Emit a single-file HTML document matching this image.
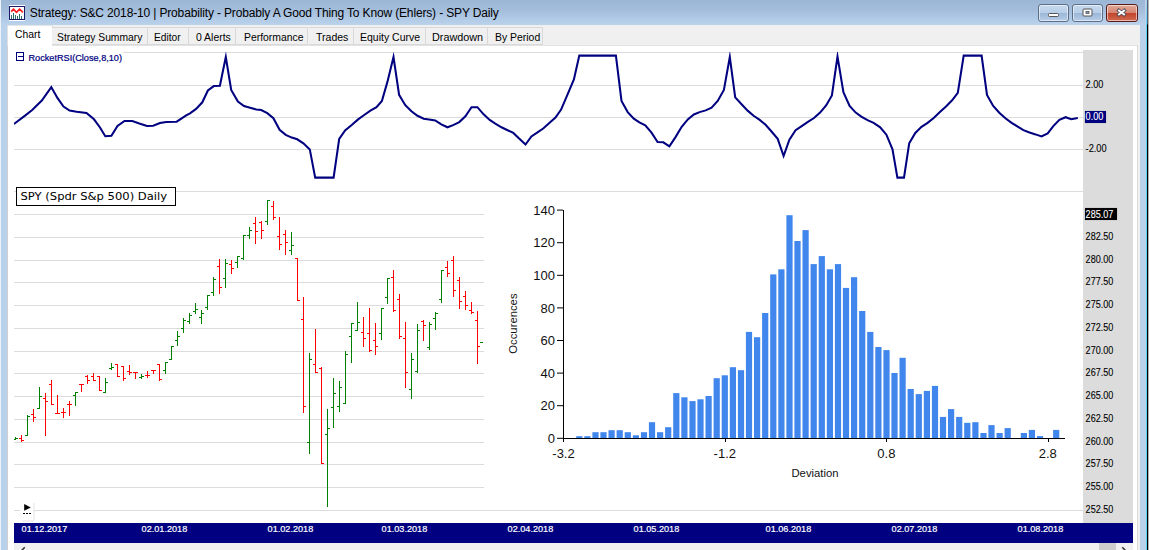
<!DOCTYPE html><html><head><meta charset="utf-8"><title>Strategy: S&amp;C 2018-10 | Probability - Probably A Good Thing To Know (Ehlers) - SPY Daily</title>
<style>
html,body{margin:0;padding:0;background:#fff}
body{width:1149px;height:550px;overflow:hidden;position:relative;font-family:"Liberation Sans",Arial,sans-serif}
#frame{position:absolute;left:0;top:0;width:1149px;height:550px;background:#b9d1ea;overflow:hidden}
#titlebar{position:absolute;left:0;top:0;width:1149px;height:25px;background:linear-gradient(#9cb6d5 0,#a3bddb 40%,#b1cae6 75%,#bad2eb 100%)}
#title{position:absolute;left:29.8px;top:5.2px;font-size:12px;letter-spacing:-0.15px;line-height:17px;color:#000;white-space:nowrap;transform-origin:0 0}
.cb{position:absolute;top:4px;width:31px;height:18px;border:1px solid #5b6f8a;border-radius:3px;box-sizing:border-box;background:linear-gradient(#c6d9ee 0,#b8cfe8 48%,#9bb6d6 50%,#b6cde8 100%);box-shadow:inset 0 0 0 1px rgba(255,255,255,.55)}
#bx{background:linear-gradient(#e3a898 0,#d68572 48%,#c2432a 50%,#cf6a50 100%);border-color:#5a1a1a}
#tabstrip{position:absolute;left:7px;top:25px;width:1133px;height:21px;background:#f0f0f0}
.tab{position:absolute;top:27px;height:18px;box-sizing:border-box;border:1px solid #d9d9d9;border-left:none;background:#f0f0f0;font-size:11.3px;color:#000}
.tab span,#tab0 span{position:absolute;top:2.5px;white-space:nowrap;line-height:12px;transform-origin:0 0}
#tab0{position:absolute;left:7px;top:25px;width:46px;height:21px;background:#fff;font-size:11.3px;border-right:1px solid #d9d9d9;border-top:1px solid #e4e4e4;box-sizing:border-box}
#content{position:absolute;left:8px;top:46px;width:1129px;height:504px;background:#fff}
</style></head><body>
<div id="frame">
<div id="titlebar"></div>
<svg style="position:absolute;left:9px;top:5px" width="16" height="16" viewBox="0 0 16 16"><rect x="0" y="0" width="16" height="16" fill="#fff"/><rect x="0.5" y="1.5" width="15" height="13" fill="#fff" stroke="#1a1a66"/><polyline points="2.1,6.6 4.5,4.2 7.5,7.3 10.6,4.2 13.9,7.3" fill="none" stroke="#ff1a1a" stroke-width="1.6"/><g fill="#2f6f6a" shape-rendering="crispEdges"><rect x="2" y="10" width="1" height="4"/><rect x="4" y="8" width="1" height="6"/><rect x="6" y="10" width="1" height="4"/><rect x="8" y="11" width="1" height="3"/><rect x="10" y="9" width="1" height="5"/><rect x="12" y="11" width="1" height="3"/></g></svg>
<div id="title">Strategy: S&amp;C 2018-10 | Probability - Probably A Good Thing To Know (Ehlers) - SPY Daily</div>
<div class="cb" id="bmin" style="left:1038px"><svg width="29" height="15" style="position:absolute;left:0;top:0"><rect x="9.5" y="8.5" width="10" height="3" rx="1" fill="#fff" stroke="#555" stroke-width="1"/></svg></div>
<div class="cb" id="bmax" style="left:1072px"><svg width="29" height="15" style="position:absolute;left:0;top:0"><rect x="10" y="4" width="9" height="7" rx="1" fill="#fff" stroke="#555" stroke-width="1"/><rect x="13" y="6.5" width="3" height="2" fill="#7f9cc0" stroke="#555" stroke-width=".8"/></svg></div>
<div class="cb" id="bx" style="left:1106px;width:32px"><svg width="30" height="15" style="position:absolute;left:0;top:0"><path d="M10.4 4.4 L18.6 10.6 M18.6 4.4 L10.4 10.6" stroke="#4a4a55" stroke-width="3.6"/><path d="M11.2 5 L17.8 10 M17.8 5 L11.2 10" stroke="#fff" stroke-width="2.1"/></svg></div>
<div id="tabstrip"></div>
<div id="tab0"><span id="s0" style="left:8.1px;top:1.6px;transform:scaleX(0.9153)">Chart</span></div>
<div class="tab" style="left:52.0px;width:95.7px"><span id="s1" style="left:5.0px;transform:scaleX(0.9126)">Strategy Summary</span></div>
<div class="tab" style="left:147.7px;width:41.7px"><span id="s2" style="left:6.8px;transform:scaleX(0.9040)">Editor</span></div>
<div class="tab" style="left:189.4px;width:46.9px"><span id="s3" style="left:7.1px;transform:scaleX(0.9234)">0 Alerts</span></div>
<div class="tab" style="left:236.3px;width:72.2px"><span id="s4" style="left:7.3px;transform:scaleX(0.9196)">Performance</span></div>
<div class="tab" style="left:308.5px;width:45.0px"><span id="s5" style="left:7.2px;transform:scaleX(0.9324)">Trades</span></div>
<div class="tab" style="left:353.5px;width:72.1px"><span id="s6" style="left:6.8px;transform:scaleX(0.9289)">Equity Curve</span></div>
<div class="tab" style="left:425.6px;width:62.8px"><span id="s7" style="left:6.9px;transform:scaleX(0.9572)">Drawdown</span></div>
<div class="tab" style="left:488.4px;width:54.9px"><span id="s8" style="left:6.9px;transform:scaleX(0.9224)">By Period</span></div>
<div id="content"></div>
<div style="position:absolute;left:7px;top:25px;width:1px;height:525px;background:linear-gradient(#e0e0e0 0,#e0e0e0 21px,#d0d0d0 21px)"></div>
<div style="position:absolute;left:52px;top:45px;width:1086px;height:1px;background:#e3e3e3"></div>
<div style="position:absolute;left:1137px;top:45px;width:1px;height:505px;background:#dcdcdc"></div>
<div style="position:absolute;left:1138px;top:25px;width:2px;height:525px;background:#f0f0f0"></div>
<div style="position:absolute;left:0;top:0;width:1px;height:550px;background:#eef3f9"></div>
<div style="position:absolute;left:1145px;top:0;width:1px;height:550px;background:#c3d1e8"></div>
<div style="position:absolute;left:1146px;top:0;width:1px;height:550px;background:linear-gradient(#a9d0ee 0,#5ad5ff 25px,#5ad5ff 100%)"></div>
<div style="position:absolute;left:1147px;top:0;width:1px;height:550px;background:linear-gradient(#55627a 0,#55627a 24px,#000 25px,#000 100%)"></div>
<div style="position:absolute;left:1148px;top:0;width:1px;height:550px;background:#b4b4b4"></div>
<svg width="1149" height="550" viewBox="0 0 1149 550" style="position:absolute;left:0;top:0">
<rect x="8" y="46" width="1129" height="504" fill="#fff"/>
<rect x="1083" y="50" width="50" height="473" fill="#dcdcdc"/>
<g shape-rendering="crispEdges" fill="#dcdcdc">
<rect x="14" y="52" width="1069" height="1"/>
<rect x="14" y="85" width="1069" height="1"/>
<rect x="14" y="117" width="1069" height="1"/>
<rect x="14" y="149" width="1069" height="1"/>
<rect x="14" y="191" width="1069" height="1"/>
<rect x="14" y="214" width="1069" height="1"/>
<rect x="14" y="237" width="1069" height="1"/>
<rect x="14" y="260" width="1069" height="1"/>
<rect x="14" y="282" width="1069" height="1"/>
<rect x="14" y="305" width="1069" height="1"/>
<rect x="14" y="328" width="1069" height="1"/>
<rect x="14" y="351" width="1069" height="1"/>
<rect x="14" y="373" width="1069" height="1"/>
<rect x="14" y="396" width="1069" height="1"/>
<rect x="14" y="419" width="1069" height="1"/>
<rect x="14" y="442" width="1069" height="1"/>
<rect x="14" y="464" width="1069" height="1"/>
<rect x="14" y="487" width="1069" height="1"/>
<rect x="14" y="510" width="1069" height="1"/>
</g>
<clipPath id="c1"><rect x="14" y="52" width="1069" height="135"/></clipPath>
<polyline clip-path="url(#c1)" points="13.9,124.0 24.4,116.1 32.2,110.0 41.8,100.5 51.3,87.1 57.4,97.9 63.5,106.6 69.6,110.6 76.6,111.8 86.5,113.0 94.0,119.3 100.0,127.5 105.3,136.2 111.4,135.8 117.5,126.0 124.5,121.0 132.3,121.0 139.3,123.5 147.0,126.0 153.2,125.7 160.0,123.1 166.2,121.9 176.7,121.7 186.2,115.3 190.0,113.3 196.1,108.9 202.3,102.3 207.9,90.5 213.8,86.1 219.9,85.8 225.8,57.0 231.2,90.0 237.9,101.5 244.0,106.0 250.1,107.7 256.3,109.4 261.2,110.1 267.3,113.1 273.4,118.2 279.6,129.8 285.7,134.9 291.8,137.6 297.2,139.3 303.4,143.3 309.8,149.4 315.2,177.6 333.6,177.6 339.2,138.8 345.1,130.5 352.0,124.8 358.1,119.4 364.2,115.0 370.4,110.6 376.5,107.2 381.9,101.0 387.4,81.9 393.5,57.0 399.1,94.9 405.3,105.2 411.4,111.3 417.5,115.8 423.7,118.7 429.1,119.4 435.2,120.4 441.3,124.4 447.5,127.3 453.1,125.1 459.3,122.1 465.4,116.3 471.5,107.2 477.4,107.2 483.6,114.3 489.7,119.9 495.3,123.6 501.5,127.3 507.6,130.2 513.3,132.9 519.4,138.8 525.5,144.5 531.4,136.4 537.1,132.7 543.2,128.5 549.3,122.9 555.5,117.5 561.1,109.6 567.7,94.2 573.9,79.4 579.3,55.6 615.9,55.6 621.5,101.0 627.7,112.1 633.8,118.7 639.4,122.4 645.3,125.3 651.5,132.7 657.6,142.0 663.3,142.3 669.4,146.4 675.5,137.1 681.7,126.8 687.8,119.4 693.9,114.5 699.6,112.1 705.7,110.4 711.6,107.7 717.7,101.0 723.9,90.0 729.8,57.0 735.2,97.4 741.8,104.5 747.9,110.9 753.6,115.8 759.7,119.9 765.6,124.8 771.5,131.5 777.7,138.8 783.6,156.0 789.4,139.6 795.6,130.2 801.7,126.1 807.9,121.9 814.0,118.0 820.1,112.6 826.3,105.2 831.9,95.4 837.5,56.5 843.4,92.2 849.6,106.0 855.7,112.6 861.3,116.7 867.5,120.2 873.6,122.9 880.2,127.3 886.4,134.7 892.5,149.4 897.4,177.6 904.0,177.6 909.2,143.3 915.3,132.9 921.5,126.8 927.6,122.9 933.7,118.0 939.9,112.1 946.0,106.4 952.1,100.3 957.8,92.9 963.7,55.6 981.6,55.6 987.0,94.9 993.2,106.0 999.3,112.8 1005.4,118.2 1011.6,122.9 1017.7,126.6 1023.4,130.2 1029.5,132.5 1035.6,134.4 1041.5,136.4 1047.7,133.4 1053.3,126.1 1059.4,119.9 1065.6,117.2 1071.2,119.2 1077.8,118.0" fill="none" stroke="#000080" stroke-width="2.05" stroke-linejoin="miter" stroke-miterlimit="12"/>
<g shape-rendering="crispEdges">
<rect x="15" y="437" width="1" height="3" fill="#008000"/>
<rect x="14" y="439" width="1" height="1" fill="#008000"/>
<rect x="16" y="438" width="2" height="1" fill="#008000"/>
<rect x="21" y="435" width="1" height="7" fill="#ff0000"/>
<rect x="19" y="438" width="2" height="1" fill="#ff0000"/>
<rect x="22" y="440" width="2" height="1" fill="#ff0000"/>
<rect x="27" y="415" width="1" height="21" fill="#008000"/>
<rect x="25" y="435" width="2" height="1" fill="#008000"/>
<rect x="28" y="416" width="2" height="1" fill="#008000"/>
<rect x="33" y="409" width="1" height="13" fill="#ff0000"/>
<rect x="31" y="414" width="2" height="1" fill="#ff0000"/>
<rect x="34" y="417" width="2" height="1" fill="#ff0000"/>
<rect x="39" y="387" width="1" height="22" fill="#008000"/>
<rect x="37" y="408" width="2" height="1" fill="#008000"/>
<rect x="40" y="396" width="2" height="1" fill="#008000"/>
<rect x="45" y="393" width="1" height="43" fill="#ff0000"/>
<rect x="43" y="398" width="2" height="1" fill="#ff0000"/>
<rect x="46" y="401" width="2" height="1" fill="#ff0000"/>
<rect x="51" y="380" width="1" height="25" fill="#ff0000"/>
<rect x="49" y="384" width="2" height="1" fill="#ff0000"/>
<rect x="52" y="404" width="2" height="1" fill="#ff0000"/>
<rect x="57" y="395" width="1" height="19" fill="#ff0000"/>
<rect x="55" y="413" width="2" height="1" fill="#ff0000"/>
<rect x="58" y="413" width="2" height="1" fill="#ff0000"/>
<rect x="63" y="408" width="1" height="10" fill="#ff0000"/>
<rect x="61" y="412" width="2" height="1" fill="#ff0000"/>
<rect x="64" y="412" width="2" height="1" fill="#ff0000"/>
<rect x="69" y="401" width="1" height="15" fill="#ff0000"/>
<rect x="67" y="404" width="2" height="1" fill="#ff0000"/>
<rect x="70" y="404" width="2" height="1" fill="#ff0000"/>
<rect x="75" y="392" width="1" height="14" fill="#008000"/>
<rect x="73" y="395" width="2" height="1" fill="#008000"/>
<rect x="76" y="392" width="2" height="1" fill="#008000"/>
<rect x="81" y="384" width="1" height="8" fill="#ff0000"/>
<rect x="79" y="384" width="2" height="1" fill="#ff0000"/>
<rect x="82" y="384" width="2" height="1" fill="#ff0000"/>
<rect x="87" y="375" width="1" height="9" fill="#ff0000"/>
<rect x="85" y="376" width="2" height="1" fill="#ff0000"/>
<rect x="88" y="380" width="2" height="1" fill="#ff0000"/>
<rect x="93" y="373" width="1" height="8" fill="#ff0000"/>
<rect x="91" y="376" width="2" height="1" fill="#ff0000"/>
<rect x="94" y="380" width="2" height="1" fill="#ff0000"/>
<rect x="99" y="376" width="1" height="15" fill="#ff0000"/>
<rect x="97" y="376" width="2" height="1" fill="#ff0000"/>
<rect x="100" y="390" width="2" height="1" fill="#ff0000"/>
<rect x="105" y="378" width="1" height="15" fill="#008000"/>
<rect x="103" y="392" width="2" height="1" fill="#008000"/>
<rect x="106" y="382" width="2" height="1" fill="#008000"/>
<rect x="111" y="363" width="1" height="7" fill="#008000"/>
<rect x="109" y="368" width="2" height="1" fill="#008000"/>
<rect x="112" y="367" width="2" height="1" fill="#008000"/>
<rect x="117" y="364" width="1" height="13" fill="#ff0000"/>
<rect x="115" y="364" width="2" height="1" fill="#ff0000"/>
<rect x="118" y="376" width="2" height="1" fill="#ff0000"/>
<rect x="123" y="366" width="1" height="15" fill="#ff0000"/>
<rect x="121" y="366" width="2" height="1" fill="#ff0000"/>
<rect x="124" y="378" width="2" height="1" fill="#ff0000"/>
<rect x="129" y="365" width="1" height="10" fill="#ff0000"/>
<rect x="127" y="371" width="2" height="1" fill="#ff0000"/>
<rect x="130" y="372" width="2" height="1" fill="#ff0000"/>
<rect x="135" y="372" width="1" height="7" fill="#ff0000"/>
<rect x="133" y="372" width="2" height="1" fill="#ff0000"/>
<rect x="136" y="372" width="2" height="1" fill="#ff0000"/>
<rect x="141" y="374" width="1" height="5" fill="#008000"/>
<rect x="139" y="377" width="2" height="1" fill="#008000"/>
<rect x="142" y="376" width="2" height="1" fill="#008000"/>
<rect x="147" y="371" width="1" height="7" fill="#ff0000"/>
<rect x="145" y="375" width="2" height="1" fill="#ff0000"/>
<rect x="148" y="375" width="2" height="1" fill="#ff0000"/>
<rect x="153" y="370" width="1" height="4" fill="#ff0000"/>
<rect x="151" y="370" width="2" height="1" fill="#ff0000"/>
<rect x="154" y="370" width="2" height="1" fill="#ff0000"/>
<rect x="159" y="364" width="1" height="17" fill="#ff0000"/>
<rect x="157" y="364" width="2" height="1" fill="#ff0000"/>
<rect x="160" y="379" width="2" height="1" fill="#ff0000"/>
<rect x="165" y="362" width="1" height="12" fill="#008000"/>
<rect x="163" y="370" width="2" height="1" fill="#008000"/>
<rect x="166" y="362" width="2" height="1" fill="#008000"/>
<rect x="171" y="346" width="1" height="14" fill="#008000"/>
<rect x="169" y="359" width="2" height="1" fill="#008000"/>
<rect x="172" y="346" width="2" height="1" fill="#008000"/>
<rect x="177" y="331" width="1" height="15" fill="#008000"/>
<rect x="175" y="340" width="2" height="1" fill="#008000"/>
<rect x="178" y="336" width="2" height="1" fill="#008000"/>
<rect x="183" y="318" width="1" height="15" fill="#008000"/>
<rect x="181" y="328" width="2" height="1" fill="#008000"/>
<rect x="184" y="320" width="2" height="1" fill="#008000"/>
<rect x="189" y="313" width="1" height="11" fill="#008000"/>
<rect x="187" y="321" width="2" height="1" fill="#008000"/>
<rect x="190" y="315" width="2" height="1" fill="#008000"/>
<rect x="195" y="303" width="1" height="11" fill="#008000"/>
<rect x="193" y="311" width="2" height="1" fill="#008000"/>
<rect x="196" y="309" width="2" height="1" fill="#008000"/>
<rect x="201" y="310" width="1" height="14" fill="#008000"/>
<rect x="199" y="317" width="2" height="1" fill="#008000"/>
<rect x="202" y="313" width="2" height="1" fill="#008000"/>
<rect x="207" y="295" width="1" height="15" fill="#008000"/>
<rect x="205" y="307" width="2" height="1" fill="#008000"/>
<rect x="208" y="295" width="2" height="1" fill="#008000"/>
<rect x="213" y="277" width="1" height="19" fill="#008000"/>
<rect x="211" y="292" width="2" height="1" fill="#008000"/>
<rect x="214" y="279" width="2" height="1" fill="#008000"/>
<rect x="219" y="259" width="1" height="35" fill="#ff0000"/>
<rect x="217" y="266" width="2" height="1" fill="#ff0000"/>
<rect x="220" y="287" width="2" height="1" fill="#ff0000"/>
<rect x="225" y="259" width="1" height="29" fill="#008000"/>
<rect x="223" y="278" width="2" height="1" fill="#008000"/>
<rect x="226" y="263" width="2" height="1" fill="#008000"/>
<rect x="231" y="260" width="1" height="14" fill="#ff0000"/>
<rect x="229" y="264" width="2" height="1" fill="#ff0000"/>
<rect x="232" y="268" width="2" height="1" fill="#ff0000"/>
<rect x="237" y="256" width="1" height="12" fill="#008000"/>
<rect x="235" y="262" width="2" height="1" fill="#008000"/>
<rect x="238" y="256" width="2" height="1" fill="#008000"/>
<rect x="243" y="235" width="1" height="25" fill="#008000"/>
<rect x="241" y="258" width="2" height="1" fill="#008000"/>
<rect x="244" y="235" width="2" height="1" fill="#008000"/>
<rect x="249" y="227" width="1" height="12" fill="#008000"/>
<rect x="247" y="235" width="2" height="1" fill="#008000"/>
<rect x="250" y="230" width="2" height="1" fill="#008000"/>
<rect x="255" y="217" width="1" height="27" fill="#ff0000"/>
<rect x="253" y="223" width="2" height="1" fill="#ff0000"/>
<rect x="256" y="231" width="2" height="1" fill="#ff0000"/>
<rect x="261" y="221" width="1" height="18" fill="#ff0000"/>
<rect x="259" y="222" width="2" height="1" fill="#ff0000"/>
<rect x="262" y="230" width="2" height="1" fill="#ff0000"/>
<rect x="267" y="200" width="1" height="25" fill="#008000"/>
<rect x="265" y="221" width="2" height="1" fill="#008000"/>
<rect x="268" y="200" width="2" height="1" fill="#008000"/>
<rect x="273" y="201" width="1" height="19" fill="#ff0000"/>
<rect x="271" y="206" width="2" height="1" fill="#ff0000"/>
<rect x="274" y="217" width="2" height="1" fill="#ff0000"/>
<rect x="279" y="217" width="1" height="33" fill="#ff0000"/>
<rect x="277" y="236" width="2" height="1" fill="#ff0000"/>
<rect x="280" y="244" width="2" height="1" fill="#ff0000"/>
<rect x="285" y="230" width="1" height="25" fill="#ff0000"/>
<rect x="283" y="234" width="2" height="1" fill="#ff0000"/>
<rect x="286" y="242" width="2" height="1" fill="#ff0000"/>
<rect x="291" y="232" width="1" height="23" fill="#008000"/>
<rect x="289" y="250" width="2" height="1" fill="#008000"/>
<rect x="292" y="245" width="2" height="1" fill="#008000"/>
<rect x="297" y="258" width="1" height="43" fill="#ff0000"/>
<rect x="295" y="258" width="2" height="1" fill="#ff0000"/>
<rect x="298" y="300" width="2" height="1" fill="#ff0000"/>
<rect x="303" y="297" width="1" height="116" fill="#ff0000"/>
<rect x="301" y="319" width="2" height="1" fill="#ff0000"/>
<rect x="304" y="406" width="2" height="1" fill="#ff0000"/>
<rect x="309" y="353" width="1" height="101" fill="#008000"/>
<rect x="307" y="442" width="2" height="1" fill="#008000"/>
<rect x="310" y="359" width="2" height="1" fill="#008000"/>
<rect x="315" y="329" width="1" height="44" fill="#ff0000"/>
<rect x="313" y="364" width="2" height="1" fill="#ff0000"/>
<rect x="316" y="372" width="2" height="1" fill="#ff0000"/>
<rect x="321" y="367" width="1" height="97" fill="#ff0000"/>
<rect x="319" y="368" width="2" height="1" fill="#ff0000"/>
<rect x="322" y="463" width="2" height="1" fill="#ff0000"/>
<rect x="327" y="409" width="1" height="98" fill="#008000"/>
<rect x="325" y="434" width="2" height="1" fill="#008000"/>
<rect x="328" y="428" width="2" height="1" fill="#008000"/>
<rect x="333" y="378" width="1" height="50" fill="#008000"/>
<rect x="331" y="407" width="2" height="1" fill="#008000"/>
<rect x="334" y="393" width="2" height="1" fill="#008000"/>
<rect x="339" y="381" width="1" height="31" fill="#008000"/>
<rect x="337" y="406" width="2" height="1" fill="#008000"/>
<rect x="340" y="387" width="2" height="1" fill="#008000"/>
<rect x="345" y="351" width="1" height="53" fill="#008000"/>
<rect x="343" y="403" width="2" height="1" fill="#008000"/>
<rect x="346" y="354" width="2" height="1" fill="#008000"/>
<rect x="351" y="323" width="1" height="40" fill="#008000"/>
<rect x="349" y="336" width="2" height="1" fill="#008000"/>
<rect x="352" y="323" width="2" height="1" fill="#008000"/>
<rect x="357" y="302" width="1" height="29" fill="#008000"/>
<rect x="355" y="330" width="2" height="1" fill="#008000"/>
<rect x="358" y="322" width="2" height="1" fill="#008000"/>
<rect x="363" y="317" width="1" height="30" fill="#ff0000"/>
<rect x="361" y="332" width="2" height="1" fill="#ff0000"/>
<rect x="364" y="338" width="2" height="1" fill="#ff0000"/>
<rect x="369" y="308" width="1" height="44" fill="#ff0000"/>
<rect x="367" y="333" width="2" height="1" fill="#ff0000"/>
<rect x="370" y="350" width="2" height="1" fill="#ff0000"/>
<rect x="375" y="323" width="1" height="32" fill="#ff0000"/>
<rect x="373" y="340" width="2" height="1" fill="#ff0000"/>
<rect x="376" y="346" width="2" height="1" fill="#ff0000"/>
<rect x="381" y="308" width="1" height="32" fill="#008000"/>
<rect x="379" y="333" width="2" height="1" fill="#008000"/>
<rect x="382" y="308" width="2" height="1" fill="#008000"/>
<rect x="387" y="278" width="1" height="26" fill="#008000"/>
<rect x="385" y="297" width="2" height="1" fill="#008000"/>
<rect x="388" y="278" width="2" height="1" fill="#008000"/>
<rect x="393" y="270" width="1" height="42" fill="#ff0000"/>
<rect x="391" y="277" width="2" height="1" fill="#ff0000"/>
<rect x="394" y="310" width="2" height="1" fill="#ff0000"/>
<rect x="399" y="294" width="1" height="45" fill="#ff0000"/>
<rect x="397" y="299" width="2" height="1" fill="#ff0000"/>
<rect x="400" y="336" width="2" height="1" fill="#ff0000"/>
<rect x="405" y="322" width="1" height="66" fill="#ff0000"/>
<rect x="403" y="338" width="2" height="1" fill="#ff0000"/>
<rect x="406" y="372" width="2" height="1" fill="#ff0000"/>
<rect x="411" y="353" width="1" height="46" fill="#008000"/>
<rect x="409" y="389" width="2" height="1" fill="#008000"/>
<rect x="412" y="359" width="2" height="1" fill="#008000"/>
<rect x="417" y="324" width="1" height="49" fill="#008000"/>
<rect x="415" y="371" width="2" height="1" fill="#008000"/>
<rect x="418" y="330" width="2" height="1" fill="#008000"/>
<rect x="423" y="320" width="1" height="21" fill="#ff0000"/>
<rect x="421" y="321" width="2" height="1" fill="#ff0000"/>
<rect x="424" y="325" width="2" height="1" fill="#ff0000"/>
<rect x="429" y="322" width="1" height="28" fill="#008000"/>
<rect x="427" y="347" width="2" height="1" fill="#008000"/>
<rect x="430" y="324" width="2" height="1" fill="#008000"/>
<rect x="435" y="312" width="1" height="18" fill="#008000"/>
<rect x="433" y="318" width="2" height="1" fill="#008000"/>
<rect x="436" y="313" width="2" height="1" fill="#008000"/>
<rect x="441" y="270" width="1" height="33" fill="#008000"/>
<rect x="439" y="299" width="2" height="1" fill="#008000"/>
<rect x="442" y="270" width="2" height="1" fill="#008000"/>
<rect x="447" y="261" width="1" height="16" fill="#ff0000"/>
<rect x="445" y="267" width="2" height="1" fill="#ff0000"/>
<rect x="448" y="273" width="2" height="1" fill="#ff0000"/>
<rect x="453" y="256" width="1" height="41" fill="#ff0000"/>
<rect x="451" y="260" width="2" height="1" fill="#ff0000"/>
<rect x="454" y="290" width="2" height="1" fill="#ff0000"/>
<rect x="459" y="277" width="1" height="32" fill="#ff0000"/>
<rect x="457" y="280" width="2" height="1" fill="#ff0000"/>
<rect x="460" y="301" width="2" height="1" fill="#ff0000"/>
<rect x="465" y="291" width="1" height="19" fill="#ff0000"/>
<rect x="463" y="296" width="2" height="1" fill="#ff0000"/>
<rect x="466" y="305" width="2" height="1" fill="#ff0000"/>
<rect x="471" y="302" width="1" height="12" fill="#ff0000"/>
<rect x="469" y="310" width="2" height="1" fill="#ff0000"/>
<rect x="472" y="312" width="2" height="1" fill="#ff0000"/>
<rect x="477" y="311" width="1" height="53" fill="#ff0000"/>
<rect x="475" y="320" width="2" height="1" fill="#ff0000"/>
<rect x="478" y="346" width="2" height="1" fill="#ff0000"/>
<rect x="480" y="342" width="3" height="1" fill="#008000"/>
</g>
<rect x="484" y="192" width="599" height="308" fill="#fff"/>
<g shape-rendering="crispEdges">
<rect x="576.2" y="436.2" width="6.2" height="2.0" fill="#4086ec" shape-rendering="auto"/>
<rect x="584.3" y="436.2" width="6.2" height="2.0" fill="#4086ec" shape-rendering="auto"/>
<rect x="592.4" y="432.2" width="6.2" height="6.0" fill="#4086ec" shape-rendering="auto"/>
<rect x="600.4" y="432.2" width="6.2" height="6.0" fill="#4086ec" shape-rendering="auto"/>
<rect x="608.5" y="430.2" width="6.2" height="8.0" fill="#4086ec" shape-rendering="auto"/>
<rect x="616.6" y="430.2" width="6.2" height="8.0" fill="#4086ec" shape-rendering="auto"/>
<rect x="624.7" y="432.2" width="6.2" height="6.0" fill="#4086ec" shape-rendering="auto"/>
<rect x="632.8" y="435.3" width="6.2" height="2.9" fill="#4086ec" shape-rendering="auto"/>
<rect x="640.9" y="432.2" width="6.2" height="6.0" fill="#4086ec" shape-rendering="auto"/>
<rect x="648.9" y="422.2" width="6.2" height="16.0" fill="#4086ec" shape-rendering="auto"/>
<rect x="657.0" y="432.2" width="6.2" height="6.0" fill="#4086ec" shape-rendering="auto"/>
<rect x="665.1" y="427.2" width="6.2" height="11.0" fill="#4086ec" shape-rendering="auto"/>
<rect x="673.2" y="393.1" width="6.2" height="45.1" fill="#4086ec" shape-rendering="auto"/>
<rect x="681.3" y="397.3" width="6.2" height="40.9" fill="#4086ec" shape-rendering="auto"/>
<rect x="689.4" y="401.1" width="6.2" height="37.1" fill="#4086ec" shape-rendering="auto"/>
<rect x="697.4" y="399.3" width="6.2" height="38.9" fill="#4086ec" shape-rendering="auto"/>
<rect x="705.5" y="396.0" width="6.2" height="42.2" fill="#4086ec" shape-rendering="auto"/>
<rect x="713.6" y="378.2" width="6.2" height="60.0" fill="#4086ec" shape-rendering="auto"/>
<rect x="721.7" y="375.3" width="6.2" height="62.9" fill="#4086ec" shape-rendering="auto"/>
<rect x="729.8" y="367.2" width="6.2" height="71.0" fill="#4086ec" shape-rendering="auto"/>
<rect x="737.9" y="370.2" width="6.2" height="68.0" fill="#4086ec" shape-rendering="auto"/>
<rect x="745.9" y="331.9" width="6.2" height="106.3" fill="#4086ec" shape-rendering="auto"/>
<rect x="754.0" y="337.2" width="6.2" height="101.0" fill="#4086ec" shape-rendering="auto"/>
<rect x="762.1" y="313.0" width="6.2" height="125.2" fill="#4086ec" shape-rendering="auto"/>
<rect x="770.2" y="274.4" width="6.2" height="163.8" fill="#4086ec" shape-rendering="auto"/>
<rect x="778.3" y="269.3" width="6.2" height="168.9" fill="#4086ec" shape-rendering="auto"/>
<rect x="786.4" y="215.2" width="6.2" height="223.0" fill="#4086ec" shape-rendering="auto"/>
<rect x="794.4" y="241.0" width="6.2" height="197.2" fill="#4086ec" shape-rendering="auto"/>
<rect x="802.5" y="230.1" width="6.2" height="208.1" fill="#4086ec" shape-rendering="auto"/>
<rect x="810.6" y="264.1" width="6.2" height="174.1" fill="#4086ec" shape-rendering="auto"/>
<rect x="818.7" y="256.1" width="6.2" height="182.1" fill="#4086ec" shape-rendering="auto"/>
<rect x="826.8" y="269.3" width="6.2" height="168.9" fill="#4086ec" shape-rendering="auto"/>
<rect x="834.9" y="264.1" width="6.2" height="174.1" fill="#4086ec" shape-rendering="auto"/>
<rect x="842.9" y="287.9" width="6.2" height="150.3" fill="#4086ec" shape-rendering="auto"/>
<rect x="851.0" y="277.2" width="6.2" height="161.0" fill="#4086ec" shape-rendering="auto"/>
<rect x="859.1" y="311.0" width="6.2" height="127.2" fill="#4086ec" shape-rendering="auto"/>
<rect x="867.2" y="331.9" width="6.2" height="106.3" fill="#4086ec" shape-rendering="auto"/>
<rect x="875.3" y="347.0" width="6.2" height="91.2" fill="#4086ec" shape-rendering="auto"/>
<rect x="883.4" y="350.1" width="6.2" height="88.1" fill="#4086ec" shape-rendering="auto"/>
<rect x="891.4" y="373.0" width="6.2" height="65.2" fill="#4086ec" shape-rendering="auto"/>
<rect x="899.5" y="357.8" width="6.2" height="80.4" fill="#4086ec" shape-rendering="auto"/>
<rect x="907.6" y="389.0" width="6.2" height="49.2" fill="#4086ec" shape-rendering="auto"/>
<rect x="915.7" y="394.1" width="6.2" height="44.1" fill="#4086ec" shape-rendering="auto"/>
<rect x="923.8" y="390.9" width="6.2" height="47.3" fill="#4086ec" shape-rendering="auto"/>
<rect x="931.9" y="385.9" width="6.2" height="52.3" fill="#4086ec" shape-rendering="auto"/>
<rect x="939.9" y="416.9" width="6.2" height="21.3" fill="#4086ec" shape-rendering="auto"/>
<rect x="948.0" y="409.1" width="6.2" height="29.1" fill="#4086ec" shape-rendering="auto"/>
<rect x="956.1" y="416.9" width="6.2" height="21.3" fill="#4086ec" shape-rendering="auto"/>
<rect x="964.2" y="422.8" width="6.2" height="15.4" fill="#4086ec" shape-rendering="auto"/>
<rect x="972.3" y="422.2" width="6.2" height="16.0" fill="#4086ec" shape-rendering="auto"/>
<rect x="980.4" y="433.0" width="6.2" height="5.2" fill="#4086ec" shape-rendering="auto"/>
<rect x="988.4" y="425.1" width="6.2" height="13.1" fill="#4086ec" shape-rendering="auto"/>
<rect x="996.5" y="433.0" width="6.2" height="5.2" fill="#4086ec" shape-rendering="auto"/>
<rect x="1004.6" y="428.1" width="6.2" height="10.1" fill="#4086ec" shape-rendering="auto"/>
<rect x="1020.8" y="433.0" width="6.2" height="5.2" fill="#4086ec" shape-rendering="auto"/>
<rect x="1028.8" y="429.9" width="6.2" height="8.3" fill="#4086ec" shape-rendering="auto"/>
<rect x="1036.9" y="436.1" width="6.2" height="2.1" fill="#4086ec" shape-rendering="auto"/>
<rect x="1053.1" y="429.9" width="6.2" height="8.3" fill="#4086ec" shape-rendering="auto"/>
<rect x="563" y="209.7" width="1" height="229" fill="#000"/>
<rect x="563" y="438" width="502" height="1" fill="#000"/>
<rect x="557" y="437.80" width="6" height="1" fill="#000" shape-rendering="auto"/>
<rect x="557" y="405.20" width="6" height="1" fill="#000" shape-rendering="auto"/>
<rect x="557" y="372.60" width="6" height="1" fill="#000" shape-rendering="auto"/>
<rect x="557" y="340.00" width="6" height="1" fill="#000" shape-rendering="auto"/>
<rect x="557" y="307.40" width="6" height="1" fill="#000" shape-rendering="auto"/>
<rect x="557" y="274.80" width="6" height="1" fill="#000" shape-rendering="auto"/>
<rect x="557" y="242.20" width="6" height="1" fill="#000" shape-rendering="auto"/>
<rect x="557" y="209.60" width="6" height="1" fill="#000" shape-rendering="auto"/>
<rect x="563" y="438" width="1" height="4" fill="#000"/>
<rect x="725" y="438" width="1" height="4" fill="#000"/>
<rect x="886" y="438" width="1" height="4" fill="#000"/>
<rect x="1048" y="438" width="1" height="4" fill="#000"/>
</g>
<g font-family="'Liberation Sans',Arial,sans-serif" font-size="13" fill="#111">
<text x="555" y="442.9" text-anchor="end">0</text>
<text x="555" y="410.3" text-anchor="end">20</text>
<text x="555" y="377.7" text-anchor="end">40</text>
<text x="555" y="345.1" text-anchor="end">60</text>
<text x="555" y="312.5" text-anchor="end">80</text>
<text x="555" y="279.9" text-anchor="end">100</text>
<text x="555" y="247.3" text-anchor="end">120</text>
<text x="555" y="214.7" text-anchor="end">140</text>
<text x="563.5" y="458" text-anchor="middle">-3.2</text>
<text x="724.8" y="458" text-anchor="middle">-1.2</text>
<text x="886.4" y="458" text-anchor="middle">0.8</text>
<text x="1047.7" y="458" text-anchor="middle">2.8</text>
</g>
<g font-family="'Liberation Sans',Arial,sans-serif" font-size="11.3" fill="#111">
<text x="815" y="477.3" text-anchor="middle">Deviation</text>
<text transform="translate(516.8,323.6) rotate(-90)" text-anchor="middle">Occurences</text>
</g>
<g font-family="'Liberation Sans',Arial,sans-serif" font-size="10" fill="#000" stroke="#000" stroke-width="0.1" lengthAdjust="spacingAndGlyphs">
<text x="1085.6" y="88" textLength="17.8" lengthAdjust="spacingAndGlyphs">2.00</text>
<rect x="1085" y="111" width="21" height="12" fill="#000080"/>
<text x="1085.6" y="120.4" fill="#fff" stroke="#fff" textLength="17.8" lengthAdjust="spacingAndGlyphs">0.00</text>
<text x="1085.6" y="152" textLength="21" lengthAdjust="spacingAndGlyphs">-2.00</text>
<rect x="1085" y="208" width="32" height="12" fill="#000"/>
<text x="1085.6" y="217.9" fill="#fff" stroke="#fff" textLength="27.7" lengthAdjust="spacingAndGlyphs">285.07</text>
<text x="1085.6" y="239.7" textLength="27.7" lengthAdjust="spacingAndGlyphs">282.50</text>
<text x="1085.6" y="262.7" textLength="27.7" lengthAdjust="spacingAndGlyphs">280.00</text>
<text x="1085.6" y="284.7" textLength="27.7" lengthAdjust="spacingAndGlyphs">277.50</text>
<text x="1085.6" y="307.7" textLength="27.7" lengthAdjust="spacingAndGlyphs">275.00</text>
<text x="1085.6" y="330.7" textLength="27.7" lengthAdjust="spacingAndGlyphs">272.50</text>
<text x="1085.6" y="353.7" textLength="27.7" lengthAdjust="spacingAndGlyphs">270.00</text>
<text x="1085.6" y="375.7" textLength="27.7" lengthAdjust="spacingAndGlyphs">267.50</text>
<text x="1085.6" y="398.7" textLength="27.7" lengthAdjust="spacingAndGlyphs">265.00</text>
<text x="1085.6" y="421.7" textLength="27.7" lengthAdjust="spacingAndGlyphs">262.50</text>
<text x="1085.6" y="444.7" textLength="27.7" lengthAdjust="spacingAndGlyphs">260.00</text>
<text x="1085.6" y="466.7" textLength="27.7" lengthAdjust="spacingAndGlyphs">257.50</text>
<text x="1085.6" y="489.7" textLength="27.7" lengthAdjust="spacingAndGlyphs">255.00</text>
<text x="1085.6" y="512.7" textLength="27.7" lengthAdjust="spacingAndGlyphs">252.50</text>
</g>
<rect x="14" y="50" width="109" height="13" fill="#fff"/>
<g shape-rendering="crispEdges"><rect x="16.5" y="52.5" width="7" height="8" fill="#fff" stroke="#000080" stroke-width="1"/><rect x="18" y="56" width="5" height="1" fill="#000080"/></g>
<text x="28.5" y="60.7" font-family="'Liberation Sans',Arial,sans-serif" font-size="9.5" fill="#000080" stroke="#000080" stroke-width="0.22" textLength="93.5" lengthAdjust="spacingAndGlyphs">RocketRSI(Close,8,10)</text>
<rect x="16.5" y="187.5" width="159" height="18" fill="#fff" stroke="#000" stroke-width="1" shape-rendering="crispEdges"/>
<text x="20.5" y="199.9" font-family="'DejaVu Sans',Verdana,sans-serif" font-size="11" fill="#000" textLength="146.6" lengthAdjust="spacingAndGlyphs">SPY (Spdr S&amp;p 500) Daily</text>
<rect x="20" y="501" width="14" height="20" rx="2" fill="#fff"/><path d="M34 503 V519.5 Q34 521 32.5 521 H22" fill="none" stroke="#e2e2e2" stroke-width="1"/>
<path d="M24.2 504 L30.8 507.4 L24.2 510.8 Z" fill="#000"/>
<g fill="#000" shape-rendering="crispEdges"><rect x="23" y="513" width="2" height="1"/><rect x="26" y="513" width="2" height="1"/><rect x="29" y="513" width="2" height="1"/></g>
<rect x="14" y="523" width="1119" height="20" fill="#000080"/>
<g font-family="'Liberation Sans',Arial,sans-serif" font-size="9.33" fill="#fff" stroke="#fff" stroke-width="0.2">
<text x="21.6" y="531.8" textLength="45.6" lengthAdjust="spacingAndGlyphs">01.12.2017</text>
<text x="141.6" y="531.8" textLength="45.6" lengthAdjust="spacingAndGlyphs">02.01.2018</text>
<text x="267.6" y="531.8" textLength="45.6" lengthAdjust="spacingAndGlyphs">01.02.2018</text>
<text x="381.6" y="531.8" textLength="45.6" lengthAdjust="spacingAndGlyphs">01.03.2018</text>
<text x="507.6" y="531.8" textLength="45.6" lengthAdjust="spacingAndGlyphs">02.04.2018</text>
<text x="633.6" y="531.8" textLength="45.6" lengthAdjust="spacingAndGlyphs">01.05.2018</text>
<text x="765.6" y="531.8" textLength="45.6" lengthAdjust="spacingAndGlyphs">01.06.2018</text>
<text x="891.6" y="531.8" textLength="45.6" lengthAdjust="spacingAndGlyphs">02.07.2018</text>
<text x="1017.6" y="531.8" textLength="45.6" lengthAdjust="spacingAndGlyphs">01.08.2018</text>
</g>
<rect x="14" y="543" width="1119" height="7" fill="#f0f0f0"/>
<rect x="1099" y="543" width="17" height="7" fill="#cdcdcd"/>
<path d="M24.8 547.3 L21.8 550.3" fill="none" stroke="#333" stroke-width="1.5"/>
<path d="M1122.3 547.3 L1125.3 550.3" fill="none" stroke="#333" stroke-width="1.5"/>
</svg>
</div></body></html>
